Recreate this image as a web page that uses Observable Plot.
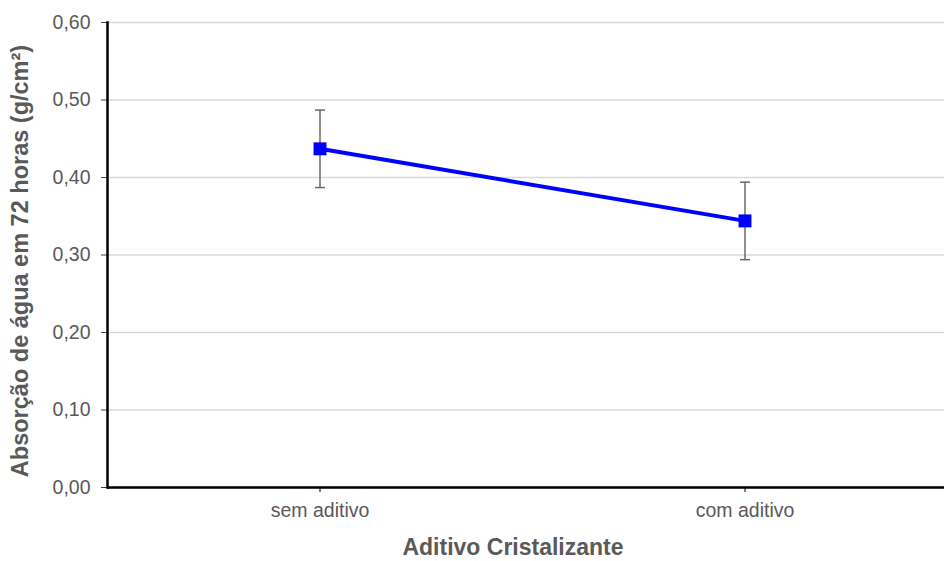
<!DOCTYPE html>
<html>
<head>
<meta charset="utf-8">
<script src="https://cdn.jsdelivr.net/npm/d3@7"></script>
<script src="https://cdn.jsdelivr.net/npm/@observablehq/plot@0.6"></script>
<style>
  html, body { margin: 0; padding: 0; background: #fff; }
  #chart { width: 944px; height: 561px; }
  svg { font-family: "Liberation Sans", Arial, sans-serif; }
</style>
</head>
<body>
<div id="chart"></div>
<script>
const categories = ["sem aditivo", "com aditivo"];
const values = [0.437, 0.344];
const errors = [0.05, 0.05];
const yTicks = [0, 0.1, 0.2, 0.3, 0.4, 0.5, 0.6];
const xTitle = "Aditivo Cristalizante";
const yTitle = "Absorção de água em 72 horas (g/cm²)";

const data = categories.map((c, i) => ({cat: c, v: values[i], e: errors[i]}));
const fmt = d => d.toFixed(2).replace(".", ",");
const capSymbol = {
  draw(ctx, size) {
    const r = Math.sqrt(size / Math.PI);
    ctx.moveTo(-r, 0);
    ctx.lineTo(r, 0);
  }
};

const plot = Plot.plot({
  width: 944,
  height: 561,
  marginLeft: 107,
  marginRight: 0,
  marginTop: 22,
  marginBottom: 74,
  style: {fontFamily: "'Liberation Sans', Arial, sans-serif", background: "#fff"},
  x: {type: "band", domain: categories, range: [107, 957], padding: 0, label: null},
  y: {domain: [0, 0.6], label: null},
  marks: [
    Plot.gridY(yTicks, {stroke: "#d9d9d9", strokeOpacity: 1, strokeWidth: 1.5}),
    Plot.axisY(yTicks, {tickFormat: fmt, tickSize: 6, tickPadding: 11, fontSize: 19.5, fill: "#595959", stroke: "#404040", label: null}),
    Plot.axisX({tickSize: 5, tickPadding: 11, fontSize: 19.5, fill: "#595959", stroke: "#000", label: null}),
    Plot.ruleY([0], {stroke: "#000", strokeWidth: 2.5}),
    Plot.frame({anchor: "left", stroke: "#000", strokeWidth: 2.5}),
    Plot.ruleX(data, {x: "cat", y1: d => d.v - d.e, y2: d => d.v + d.e, stroke: "#6a6a6a", strokeWidth: 1.5}),
    Plot.dot(data, {x: "cat", y: d => d.v - d.e, symbol: capSymbol, r: 5, stroke: "#6a6a6a", strokeWidth: 1.5, fill: "none"}),
    Plot.dot(data, {x: "cat", y: d => d.v + d.e, symbol: capSymbol, r: 5, stroke: "#6a6a6a", strokeWidth: 1.5, fill: "none"}),
    Plot.line(data, {x: "cat", y: "v", stroke: "#0000ff", strokeWidth: 4}),
    Plot.dot(data, {x: "cat", y: "v", symbol: "square", r: 7.3, fill: "#0000ff", stroke: "none"}),
    Plot.text([yTitle], {frameAnchor: "left", textAnchor: "middle", lineAnchor: "middle", rotate: -90, dx: -87, dy: 6, fontSize: 23.5, fontWeight: "bold", fill: "#595959"}),
    Plot.text([xTitle], {frameAnchor: "bottom", textAnchor: "middle", lineAnchor: "middle", dx: -13, dy: 60, fontSize: 23, fontWeight: "bold", fill: "#595959"})
  ]
});
document.getElementById("chart").appendChild(plot);
</script>
</body>
</html>
